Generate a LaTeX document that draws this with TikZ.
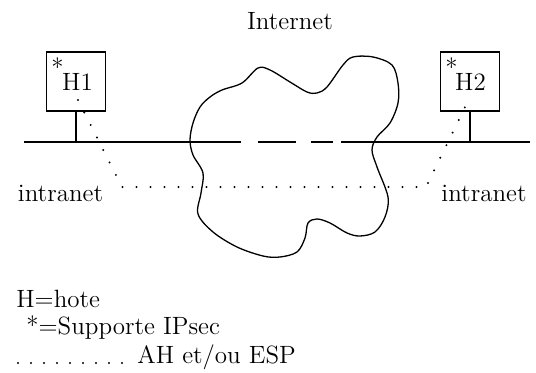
\documentclass[tikz,border=0pt]{standalone}
\usepackage{tikz}
\usetikzlibrary{positioning}
\tikzset{
  host/.style={draw, line width=0.65pt, minimum width=29.5pt, minimum height=29.5pt, inner sep=0pt},
  lbl/.style={inner sep=0pt},
  leg/.style={inner sep=0pt, anchor=base west},
  wire/.style={line width=0.65pt},
  lan/.style={wire, dash pattern=on 108.5pt off 8.5pt on 19pt off 7.5pt on 11pt off 4pt on 200pt},
  ipsec/.style={line width=1.1pt, line cap=round, dash pattern=on 0pt off 7pt},
  legdots/.style={ipsec, dash pattern=on 0pt off 6.5pt},
  cloud/.style={line width=0.65pt},
  every picture/.append style={font=\fontsize{12.5}{15}\selectfont}
}
\begin{document}
\begin{tikzpicture}[x=0.5pt, y=-0.5pt]
  \useasboundingbox (0,0) rectangle (536,373);
  \node[lbl] (inet) at (290,21) {Internet};
  % hosts
  \node[host] (h1) at (76,81.5) {};
  \node[lbl, anchor=base] (h1t) at (77.5,91) {H1};
  \node[lbl, anchor=base west] (h1s) at (51,77) {*};
  \node[host] (h2) at (470,81.5) {};
  \node[lbl, anchor=base] (h2t) at (470.5,91) {H2};
  \node[lbl, anchor=base west] (h2s) at (445,77) {*};
  % reseau
  \coordinate (lanL) at (24,142);
  \coordinate (lanR) at (530,142);
  \draw[lan] (lanL) -- (lanR);
  \draw[wire] (h1.south) -- (h1.south |- lanL);
  \draw[wire] (h2.south) -- (h2.south |- lanR);
  % nuage
  \draw[cloud] plot[smooth cycle, tension=0.55] coordinates {
    (258,68) (242,83) (222,90) (210,97) (200,107) (193,123) (190,140)
    (193,155) (203,173) (201,193) (198,214) (213,232) (237,247)
    (263,256) (280,257) (297,252) (305,238) (308,223) (317,219)
    (330,223) (347,233) (360,236) (375,232) (385,217) (388,197)
    (377,167) (372,150) (377,137) (390,123) (398,103) (398,83)
    (392,65) (373,57) (353,57) (343,65) (327,87) (317,93)
    (307,92) (290,82) (270,70)};
  % tunnel
  \coordinate (t1) at (78,100);
  \coordinate (c1) at (122,187);
  \coordinate (c2) at (426,187);
  \coordinate (t2) at (469,99);
  \draw[ipsec] (t1) -- (c1) -- (c2) -- (t2);
  \node[lbl, anchor=base] (in1) at (60.5,202) {intranet};
  \node[lbl, anchor=base] (in2) at (484,202) {intranet};
  % legende
  \node[leg] (kh) at (16,308) {H=hote};
  \node[leg] (ks) at (26,335) {*=Supporte IPsec};
  \coordinate (kd1) at (18,363);
  \coordinate (kd2) at (123,363);
  \draw[legdots] (kd1) -- (kd2);
  \node[leg] (ke) at (137,364) {AH et/ou ESP};
\end{tikzpicture}
\end{document}
